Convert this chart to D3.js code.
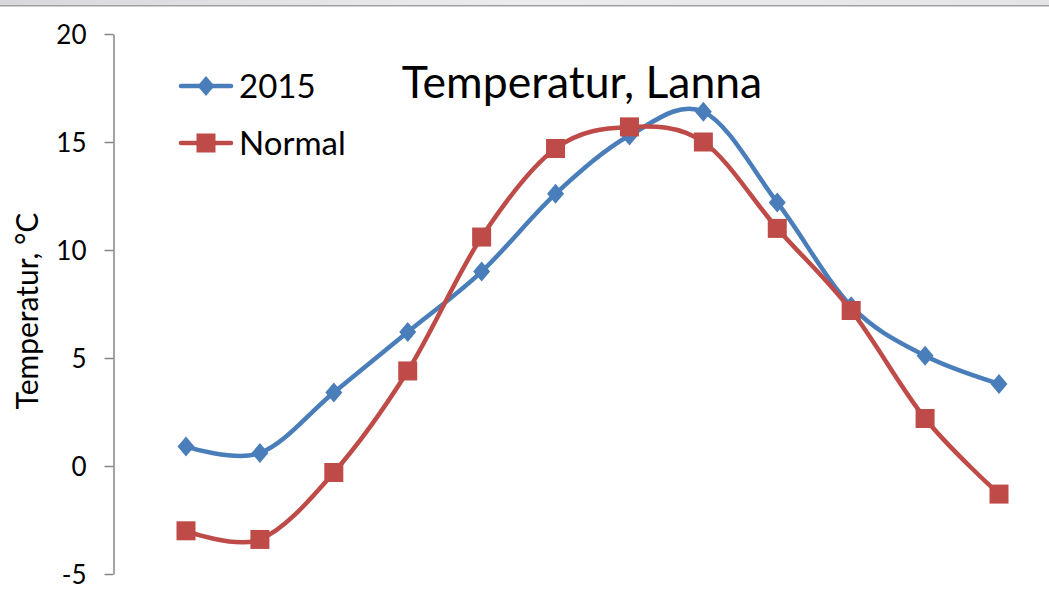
<!DOCTYPE html>
<html><head><meta charset="utf-8">
<script src="https://cdn.jsdelivr.net/npm/d3@7"></script>
<style>html,body{margin:0;padding:0;background:#fff;}svg{display:block;}</style>
</head><body>
<svg id="c" width="1049" height="591"></svg>
<script>
const months = [1,2,3,4,5,6,7,8,9,10,11,12];
const series2015 = [0.9,0.6,3.4,6.2,9.0,12.6,15.3,16.4,12.2,7.4,5.1,3.8];
const seriesNormal = [-3.0,-3.4,-0.3,4.4,10.6,14.7,15.7,15.0,11.0,7.2,2.2,-1.3];
const yTicks = [-5,0,5,10,15,20];
const yTickLabels = ["-5","0","5","10","15","20"];
const titleText = "Temperatur, Lanna";
const yLabel = "Temperatur, °C";
const seriesNames = ["2015","Normal"];

const svg = d3.select("#c");
const font = "Lato, 'Open Sans', sans-serif";

const defs = svg.append("defs");
const g0 = defs.append("linearGradient").attr("id","band").attr("x1",0).attr("x2",1).attr("y1",0).attr("y2",0);
g0.append("stop").attr("offset","0").attr("stop-color","#d8d8dc");
g0.append("stop").attr("offset","0.5").attr("stop-color","#ececee");
g0.append("stop").attr("offset","1").attr("stop-color","#e4e4e6");
svg.append("rect").attr("x",0).attr("y",0).attr("width",1049).attr("height",5).attr("fill","url(#band)");
svg.append("rect").attr("x",0).attr("y",5).attr("width",1049).attr("height",1.5).attr("fill","#a0a0a0");

const x = d3.scalePoint().domain(months).range([186,999]);
const y = d3.scaleLinear().domain([-5,20]).range([574,34]);

const axis = d3.axisLeft(y).tickValues(yTicks).tickSize(9).tickSizeOuter(0).tickPadding(18)
  .tickFormat((d,i)=>yTickLabels[i]);
const ag = svg.append("g").attr("transform","translate(113.5,0)").call(axis);
ag.select(".domain").attr("stroke","#868686").attr("stroke-width",1.5);
ag.selectAll(".tick line").attr("stroke","#868686").attr("stroke-width",1.5);
ag.selectAll(".tick text").attr("font-family",font).attr("font-size",26).attr("fill","#000").attr("dy","0.36em");

svg.append("text").attr("transform","translate(38,311) rotate(-90)")
  .attr("text-anchor","middle").attr("font-family",font).attr("font-size",30).attr("fill","#000").text(yLabel);

svg.append("text").attr("x",582).attr("y",98).attr("text-anchor","middle")
  .attr("font-family",font).attr("font-size",44.5).attr("fill","#000").text(titleText);

const colors = ["#4A7EBB","#BE4B48"];
const line = d3.line().x((d,i)=>x(months[i])).y(d=>y(d)).curve(d3.curveCardinal.tension(0));
const data = [series2015, seriesNormal];

function marker(sel, type, color){
  if(type===0){
    sel.append("path").attr("d","M0,-10L8.5,0L0,10L-8.5,0Z").attr("fill",color);
  } else {
    sel.append("rect").attr("x",-9.5).attr("y",-9.5).attr("width",19).attr("height",19).attr("fill",color);
  }
}

data.forEach((s,k)=>{
  svg.append("path").attr("d",line(s)).attr("fill","none").attr("stroke",colors[k]).attr("stroke-width",4.5).attr("stroke-linecap","round");
});
data.forEach((s,k)=>{
  s.forEach((v,i)=>{
    const g = svg.append("g").attr("transform",`translate(${x(months[i])},${y(v)})`);
    marker(g,k,colors[k]);
  });
});

const legY = [86,143];
seriesNames.forEach((n,k)=>{
  svg.append("line").attr("x1",181).attr("x2",231).attr("y1",legY[k]).attr("y2",legY[k])
    .attr("stroke",colors[k]).attr("stroke-width",4.5).attr("stroke-linecap","round");
  const g = svg.append("g").attr("transform",`translate(206,${legY[k]})`);
  marker(g,k,colors[k]);
  svg.append("text").attr("x",239).attr("y",legY[k]).attr("dy","0.36em").attr("font-family",font)
    .attr("font-size",33).attr("fill","#000").text(n);
});
</script>
</body></html>
